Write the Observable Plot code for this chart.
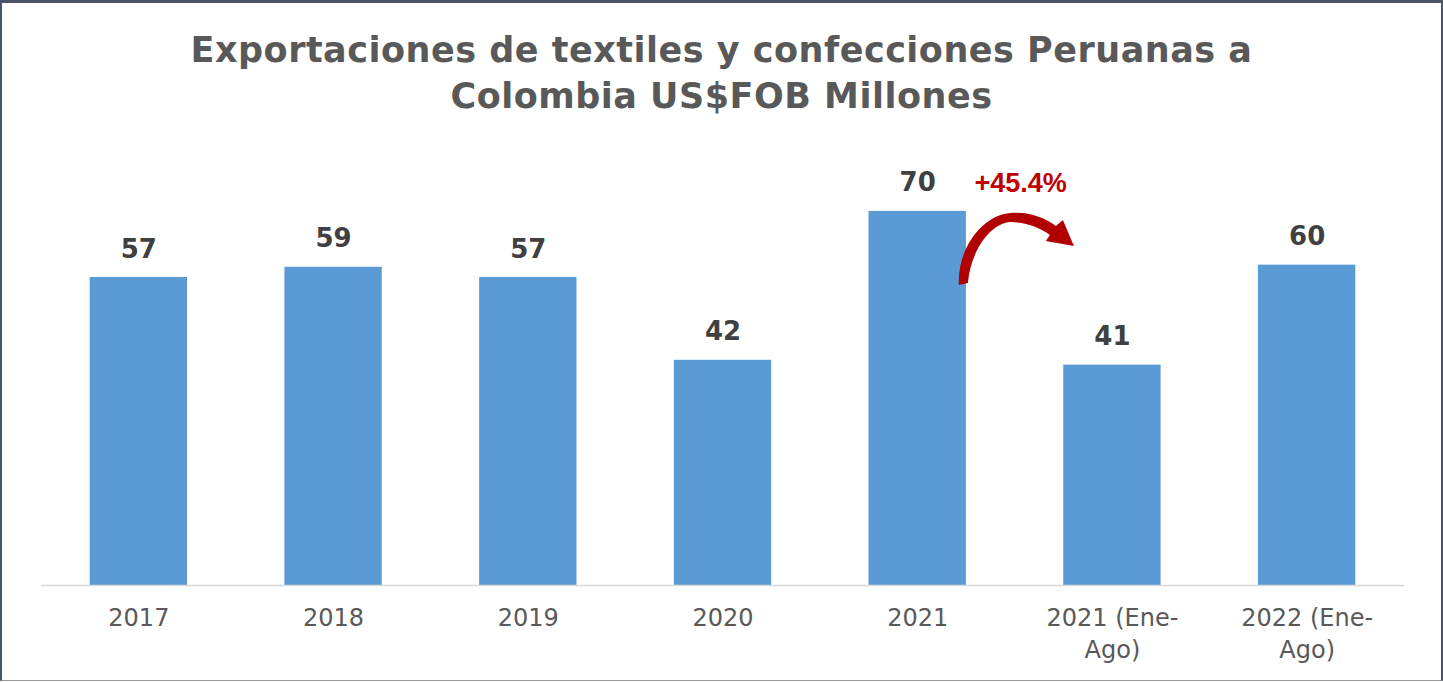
<!DOCTYPE html>
<html><head><meta charset="utf-8">
<script src="https://cdn.jsdelivr.net/npm/d3@7"></script>
<script src="https://cdn.jsdelivr.net/npm/@observablehq/plot@0.6"></script>
<style>
body{margin:0;background:#fff;}
#frame{position:relative;width:1443px;height:682px;overflow:hidden;background:#fff;}
#title{position:absolute;left:0;top:0;width:1443px;height:140px;box-sizing:border-box;padding-top:27px;text-align:center;font-family:"DejaVu Sans";font-weight:bold;font-size:35px;letter-spacing:0.5px;line-height:46px;color:#595959;}
#chart{position:absolute;left:0;top:140px;}
#border{position:absolute;left:0;top:0;width:1443px;height:681px;box-sizing:border-box;border-top:3px solid #4a5568;border-left:2px solid #4a5568;border-right:2px solid #4a5568;border-bottom:1px solid #9a9a9a;pointer-events:none;}
</style></head>
<body>
<div id="frame">
 <div id="title">Exportaciones de textiles y confecciones Peruanas a<br>Colombia US$FOB Millones</div>
 <div id="chart"></div>
 <div id="border"></div>
</div>
<script>
const categories = ["2017", "2018", "2019", "2020", "2021", "2021 (Ene-Ago)", "2022 (Ene-Ago)"];
const values = [57.3, 59.2, 57.3, 41.9, 69.6, 41.0, 59.6];
const arrowFrom = "2021";
const arrowTo = "2021 (Ene-Ago)";
const growthBase = "2021 (Ene-Ago)";
const growthEnd = "2022 (Ene-Ago)";

const data = categories.map((c, i) => ({cat: c, value: values[i]}));

const chart = Plot.plot({
  width: 1443, height: 542,
  marginLeft: 41, marginRight: 39, marginTop: 15, marginBottom: 97,
  style: {fontFamily: "DejaVu Sans", background: "transparent", overflow: "visible"},
  x: {domain: categories, paddingInner: 0.5, paddingOuter: 0.25, round: false, label: null},
  y: {domain: [0, 80], axis: null},
  marks: [
    Plot.barY(data, {x: "cat", y: "value", fill: "#5B9BD5"}),
    Plot.ruleY([0], {stroke: "#d9d9d9", strokeWidth: 1.5}),
    Plot.text(data, {x: "cat", y: "value", text: d => d3.format(".0f")(d.value), lineAnchor: "bottom", dy: -20, fontSize: 26, fontWeight: "bold", fill: "#404040"}),
    Plot.axisX({tickSize: 0, tickPadding: 18, fontSize: 24, fill: "#595959", lineHeight: 1.33, tickFormat: d => d.replace("-", "-\n"), label: null})
  ]
});
document.getElementById("chart").appendChild(chart);

// growth annotation
const sx = chart.scale("x"), sy = chart.scale("y");
const bw = sx.bandwidth;
const center = c => sx.apply(c) + bw / 2;
const svg = d3.select(chart);
const fromIdx = categories.indexOf(arrowFrom);
const xR = sx.apply(arrowFrom) + bw;
const yT = sy.apply(values[fromIdx]);
const growth = (values[categories.indexOf(growthEnd)] / values[categories.indexOf(growthBase)] - 1) * 100;

svg.append("path")
  .attr("transform", `translate(${xR},${yT})`)
  .attr("fill", "#b00000")
  .attr("d", "M-7,74 C-9,40 15,4 45,2 C64,1 79,7 90,15 L97,9 L108,35 L80,30 L84,24 C74,17 62,12 45,11 C24,12 5,40 2,72 Z");

svg.append("text")
  .attr("x", (center(arrowFrom) + center(arrowTo)) / 2 + 6)
  .attr("y", yT - 19)
  .attr("text-anchor", "middle")
  .attr("font-family", "Liberation Sans")
  .attr("font-weight", "bold")
  .attr("font-size", 27)
  .attr("fill", "#C00000")
  .text("+" + growth.toFixed(1) + "%");
</script>
</body></html>
